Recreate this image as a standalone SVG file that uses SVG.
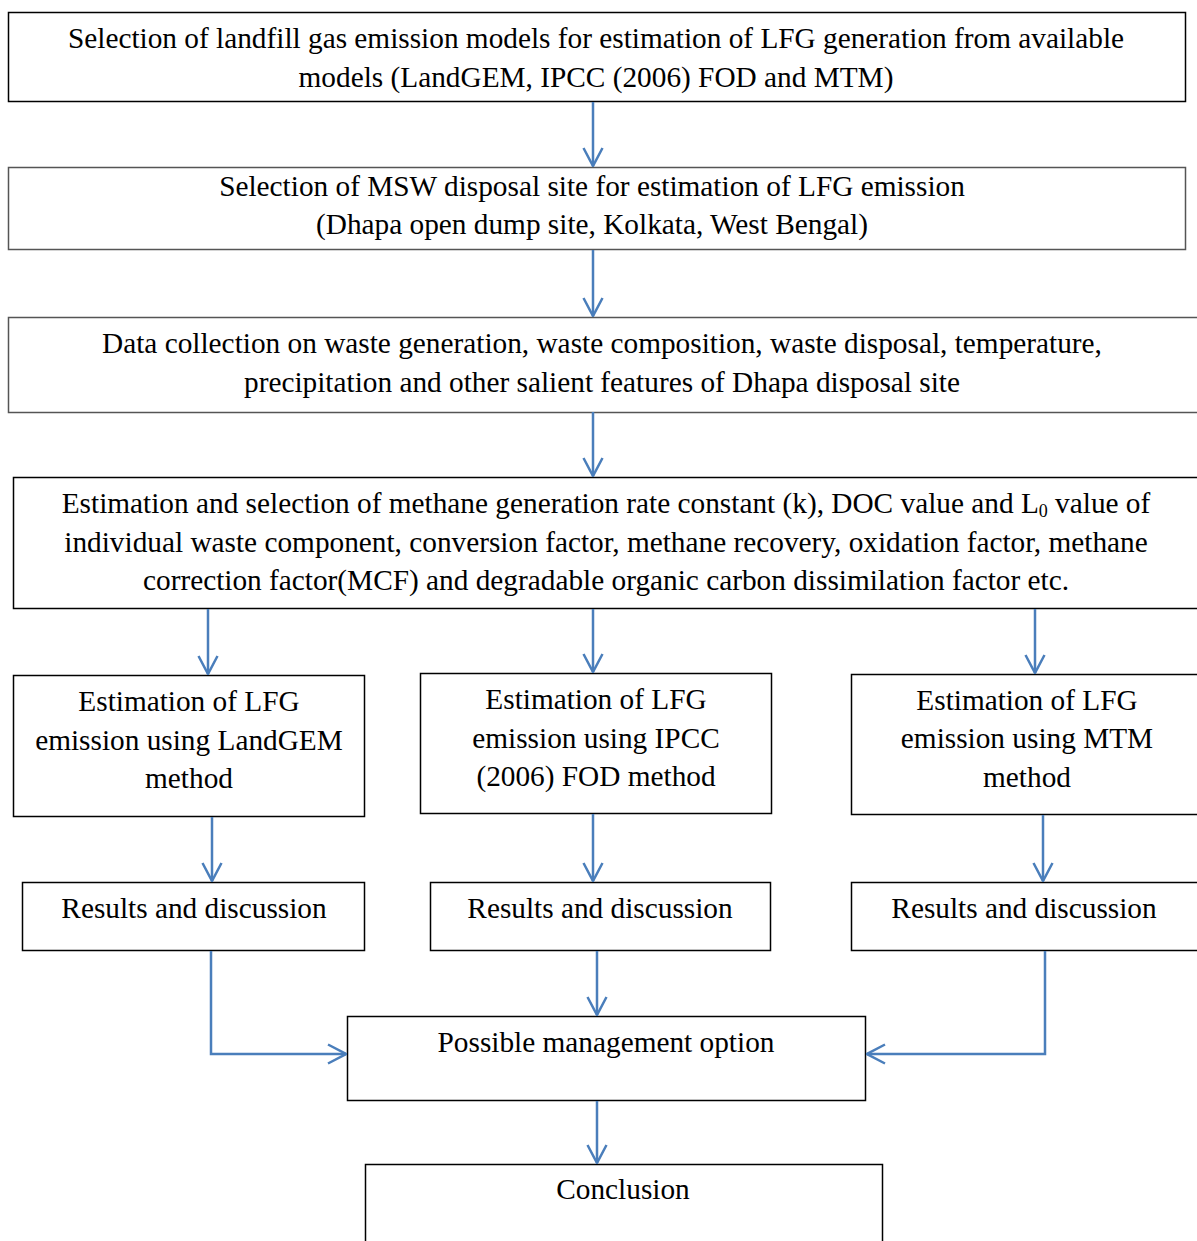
<svg xmlns="http://www.w3.org/2000/svg" width="1197" height="1241" viewBox="0 0 1197 1241">
<style>
.box{fill:#fff;stroke:#000;stroke-width:1.5}
.gray{stroke:#555}
.t{font-family:"Liberation Serif","Times New Roman",serif;font-size:29.3px;fill:#000;text-anchor:middle}
.c{fill:none;stroke:#4a7ebb;stroke-width:2.5}
</style>
<defs>
<marker id="ah" viewBox="0 0 20 22" refX="19" refY="11" markerWidth="20" markerHeight="22" markerUnits="userSpaceOnUse" orient="auto">
<path d="M1,1.5 L19,11 L1,20.5" fill="none" stroke="#4a7ebb" stroke-width="2.5"/>
</marker>
</defs>
<rect width="1197" height="1241" fill="#fff"/>
<g id="n1"><rect class="box" x="8.5" y="12.5" width="1177" height="89"/>
<text class="t" x="596" y="48">Selection of landfill gas emission models for estimation of LFG generation from available</text>
<text class="t" x="596" y="87">models (LandGEM, IPCC (2006) FOD and MTM)</text></g>
<g id="n2"><rect class="box gray" x="8.5" y="167.5" width="1177" height="82" stroke-width="1"/>
<text class="t" x="592" y="196">Selection of MSW disposal site for estimation of LFG emission</text>
<text class="t" x="592" y="234">(Dhapa open dump site, Kolkata, West Bengal)</text></g>
<g id="n3"><rect class="box gray" x="8.5" y="317.5" width="1195" height="95"/>
<text class="t" x="602" y="353">Data collection on waste generation, waste composition, waste disposal, temperature,</text>
<text class="t" x="602" y="392">precipitation and other salient features of Dhapa disposal site</text></g>
<g id="n4"><rect class="box" x="13.5" y="477.5" width="1190" height="131"/>
<text class="t" x="606" y="513">Estimation and selection of methane generation rate constant (k), DOC value and L<tspan font-size="18" dy="4">0</tspan><tspan dy="-4"> value of</tspan></text>
<text class="t" x="606" y="552">individual waste component, conversion factor, methane recovery, oxidation factor, methane</text>
<text class="t" x="606" y="590">correction factor(MCF) and degradable organic carbon dissimilation factor etc.</text></g>
<g id="n5"><rect class="box" x="13.5" y="675.5" width="351" height="141"/>
<text class="t" x="189" y="711">Estimation of LFG</text>
<text class="t" x="189" y="750">emission using LandGEM</text>
<text class="t" x="189" y="788">method</text></g>
<g id="n6"><rect class="box" x="420.5" y="673.5" width="351" height="140"/>
<text class="t" x="596" y="709">Estimation of LFG</text>
<text class="t" x="596" y="748">emission using IPCC</text>
<text class="t" x="596" y="786">(2006) FOD method</text></g>
<g id="n7"><rect class="box" x="851.5" y="674.5" width="352" height="140"/>
<text class="t" x="1027" y="710">Estimation of LFG</text>
<text class="t" x="1027" y="748">emission using MTM</text>
<text class="t" x="1027" y="787">method</text></g>
<g id="n8"><rect class="box" x="22.5" y="882.5" width="342" height="68"/>
<text class="t" x="194" y="918">Results and discussion</text></g>
<g id="n9"><rect class="box" x="430.5" y="882.5" width="340" height="68"/>
<text class="t" x="600" y="918">Results and discussion</text></g>
<g id="n10"><rect class="box" x="851.5" y="882.5" width="352" height="68"/>
<text class="t" x="1024" y="918">Results and discussion</text></g>
<g id="n11"><rect class="box" x="347.5" y="1016.5" width="518" height="84"/>
<text class="t" x="606" y="1052">Possible management option</text></g>
<g id="n12"><rect class="box" x="365.5" y="1164.5" width="517" height="90"/>
<text class="t" x="623" y="1199">Conclusion</text></g>
<g id="connectors">
<path class="c" marker-end="url(#ah)" d="M593,102 V166"/>
<path class="c" marker-end="url(#ah)" d="M593,250 V316"/>
<path class="c" marker-end="url(#ah)" d="M593,412 V476"/>
<path class="c" marker-end="url(#ah)" d="M208,609 V674"/>
<path class="c" marker-end="url(#ah)" d="M593,609 V672"/>
<path class="c" marker-end="url(#ah)" d="M1035,609 V673"/>
<path class="c" marker-end="url(#ah)" d="M212,817 V881"/>
<path class="c" marker-end="url(#ah)" d="M593,814 V881"/>
<path class="c" marker-end="url(#ah)" d="M1043,815 V881"/>
<path class="c" marker-end="url(#ah)" d="M211,951 V1054 H346"/>
<path class="c" marker-end="url(#ah)" d="M597,951 V1015"/>
<path class="c" marker-end="url(#ah)" d="M1045,951 V1054 H867"/>
<path class="c" marker-end="url(#ah)" d="M597,1101 V1163"/>
</g>
</svg>
